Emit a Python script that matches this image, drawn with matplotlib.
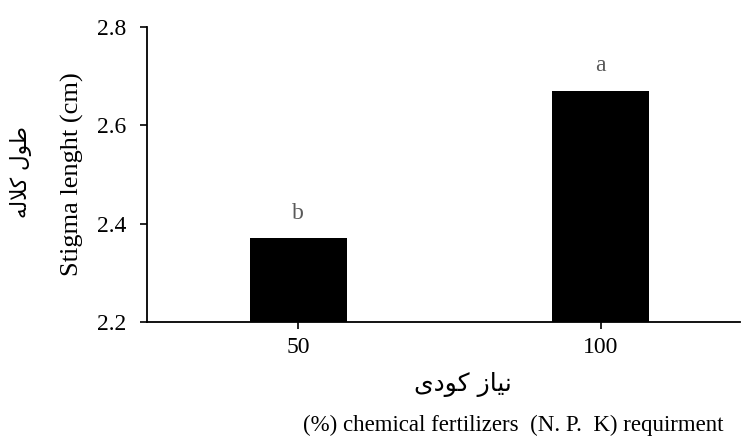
import matplotlib.pyplot as plt

# data
categories = ["50", "100"]
values = [2.37, 2.67]
letters = ["b", "a"]
y_ticks = [2.2, 2.4, 2.6, 2.8]

# Persian text given in presentation forms, visual (left-to-right) order,
# since matplotlib does no Arabic shaping
ylabel_fa = "\ufeea\ufedf\ufefc\ufb90 \ufedd\ufeee\ufec3"   # طول کلاله
xlabel_fa = "\ufbfc\ufea9\ufeee\ufb90 \ufeaf\ufe8e\ufbff\ufee7"   # نیاز کودی
ylabel_en = "Stigma lenght (cm)"
xlabel_en = "(%) chemical fertilizers  (N. P.  K) requirment"

plt.rcParams['font.family'] = ['Liberation Serif', 'DejaVu Sans']

fig = plt.figure(figsize=(7.46, 4.47), dpi=100)
ax = fig.add_axes([0.197, 0.2796, 0.795, 0.66])

x = range(len(categories))
bars = ax.bar(x, values, width=0.32, color="black", bottom=0)
for xi, v, lab in zip(x, values, letters):
    ax.text(xi, v + 0.03, lab, ha="center", va="bottom", fontsize=17, color="#595959")

ax.set_ylim(2.2, 2.8)
ax.set_xlim(-0.5, 1.46)
ax.set_yticks(y_ticks)
ax.set_yticklabels([f"{t:.1f}" for t in y_ticks])
ax.set_xticks(list(x))
ax.set_xticklabels(categories)
ax.tick_params(axis="both", labelsize=17, direction="out", width=1.2, length=5, pad=6)
ax.tick_params(axis="y", pad=10)

for s in ["top", "right"]:
    ax.spines[s].set_visible(False)
for s in ["left", "bottom"]:
    ax.spines[s].set_linewidth(1.3)

fig.text(0.097, 0.61, ylabel_en, rotation=90, ha="center", va="center", fontsize=19)
fig.text(0.028, 0.615, ylabel_fa, rotation=90, ha="center", va="center", fontsize=15.5,
         family="DejaVu Sans")
fig.text(0.62, 0.139, xlabel_fa, ha="center", va="center", fontsize=18, family="DejaVu Sans")
fig.text(0.688, 0.049, xlabel_en, ha="center", va="center", fontsize=16.5)

plt.savefig("out.png", dpi=100)
